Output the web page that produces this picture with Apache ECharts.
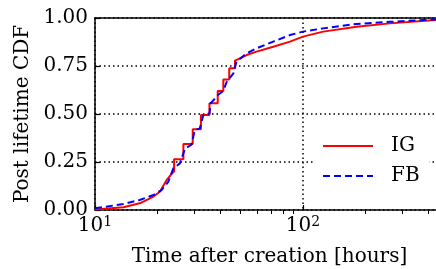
<!DOCTYPE html>
<html>
<head>
<meta charset="UTF-8">
<title>Post lifetime CDF</title>
<script src="https://cdn.jsdelivr.net/npm/echarts@6/dist/echarts.min.js"></script>
<style>
  html, body { margin: 0; padding: 0; background: #fff; }
  #main { width: 436px; height: 269px; }
</style>
</head>
<body>
<div id="main"></div>
<script>
// IG curve (red, solid)
var igHours = [10, 13.7, 16.4, 19.1, 20.5, 22.1, 23.4, 24, 24, 26.6, 26.6, 29.5, 29.5, 32.3, 32.3, 35.5, 35.5, 38.9, 38.9, 41.4, 41.4, 44.2, 44.2, 47.1, 47.1, 53.6, 59.8, 71.9, 86.6, 100, 125, 181, 262, 436];
var igCdf   = [0.003, 0.014, 0.035, 0.07, 0.095, 0.156, 0.19, 0.2, 0.264, 0.264, 0.344, 0.344, 0.42, 0.42, 0.495, 0.495, 0.556, 0.556, 0.62, 0.62, 0.68, 0.68, 0.738, 0.738, 0.778, 0.807, 0.825, 0.85, 0.877, 0.903, 0.929, 0.955, 0.972, 0.99];

// FB curve (blue, dashed)
var fbHours = [10, 13.7, 16.4, 19.1, 20.9, 22.5, 23.8, 25.6, 27.1, 29.1, 30.2, 31.9, 33.2, 35.5, 36, 39.1, 41.4, 43, 46.3, 47.9, 53.6, 59.8, 71.9, 86.6, 100, 125, 181, 262, 436];
var fbCdf   = [0.009, 0.031, 0.052, 0.078, 0.104, 0.147, 0.217, 0.243, 0.32, 0.34, 0.417, 0.425, 0.495, 0.503, 0.556, 0.6, 0.62, 0.668, 0.712, 0.773, 0.816, 0.842, 0.877, 0.911, 0.929, 0.946, 0.969, 0.98, 0.993];

var majorHours = [10, 100];
var minorHours = [20, 30, 40, 50, 60, 70, 80, 90, 200, 300, 400];
var yTicks = [0, 0.25, 0.5, 0.75, 1];

var serif = 'DejaVu Serif';
var fs = 20;

function toPairs(xs, ys) {
  var out = [];
  for (var i = 0; i < xs.length; i++) {
    out.push([Math.log10(xs[i]), ys[i]]);
  }
  return out;
}

var myChart = echarts.init(document.getElementById('main'));

myChart.setOption({
  animation: false,
  grid: { left: 95, right: 0, top: 18, bottom: 59, outerBoundsMode: 'none' },
  legend: {
    orient: 'vertical',
    left: 314,
    top: 123,
    backgroundColor: '#fff',
    padding: [13, 10, 10, 8],
    itemWidth: 50,
    itemHeight: 14,
    itemGap: 10,
    itemStyle: { opacity: 0 },
    textStyle: { fontFamily: serif, fontSize: fs, color: '#000', lineHeight: 20, padding: [0, 0, 0, 13] },
    data: ['IG', 'FB']
  },
  xAxis: [{
    type: 'value',
    min: 1,
    max: 1 + 341 / 208,
    axisLine: { lineStyle: { color: '#000', width: 1.5 } },
    axisTick: {
      inside: true, length: 5,
      customValues: majorHours.map(Math.log10),
      lineStyle: { color: '#000', width: 1.2 }
    },
    axisLabel: {
      margin: 5,
      customValues: majorHours.map(Math.log10),
      formatter: function (v) { return '{b|10}{s|' + Math.round(v) + '}'; },
      rich: {
        b: { fontFamily: serif, fontSize: fs, color: '#000' },
        s: { fontFamily: serif, fontSize: 14, color: '#000', verticalAlign: 'top', padding: [0, 0, 8, 0] }
      }
    },
    splitLine: { show: true, lineStyle: { color: '#000', type: [1.5, 3], width: 1.5 } },
    name: 'Time after creation [hours]',
    nameLocation: 'middle',
    nameGap: 37,
    nameTextStyle: { fontFamily: serif, fontSize: fs, color: '#000', padding: [0, 0, 0, 8] }
  }, {
    type: 'value',
    position: 'bottom',
    min: 1,
    max: 1 + 341 / 208,
    axisLine: { show: false },
    axisTick: {
      inside: false, length: 4,
      customValues: minorHours.map(Math.log10),
      lineStyle: { color: '#000', width: 1 }
    },
    axisLabel: { show: false },
    splitLine: { show: false }
  }, {
    type: 'value',
    position: 'top',
    min: 1,
    max: 1 + 341 / 208,
    axisLine: { lineStyle: { color: '#000', width: 1.5 } },
    axisTick: { show: false },
    axisLabel: { show: false },
    splitLine: { show: false }
  }],
  yAxis: {
    type: 'value',
    min: 0,
    max: 1,
    interval: 0.25,
    axisLine: { show: true, lineStyle: { color: '#000', width: 1.5 } },
    axisTick: { show: true, inside: true, length: 5, customValues: yTicks, lineStyle: { color: '#000', width: 1.2 } },
    axisLabel: {
      margin: 7,
      fontFamily: serif, fontSize: fs, color: '#000',
      formatter: function (v) { return v.toFixed(2); }
    },
    splitLine: { show: true, lineStyle: { color: '#000', type: [1.5, 3], width: 1.5 } },
    name: 'Post lifetime CDF',
    nameLocation: 'middle',
    nameGap: 58,
    nameTextStyle: { fontFamily: serif, fontSize: fs, color: '#000' }
  },
  series: [{
    name: 'IG',
    type: 'line',
    symbol: 'none',
    data: toPairs(igHours, igCdf),
    lineStyle: { color: '#ff0000', width: 2 },
    itemStyle: { color: '#ff0000' },
    z: 3
  }, {
    name: 'FB',
    type: 'line',
    symbol: 'none',
    data: toPairs(fbHours, fbCdf),
    lineStyle: { color: '#0000ff', width: 2, type: [7, 4] },
    itemStyle: { color: '#0000ff' },
    z: 4
  }]
});
</script>
</body>
</html>
